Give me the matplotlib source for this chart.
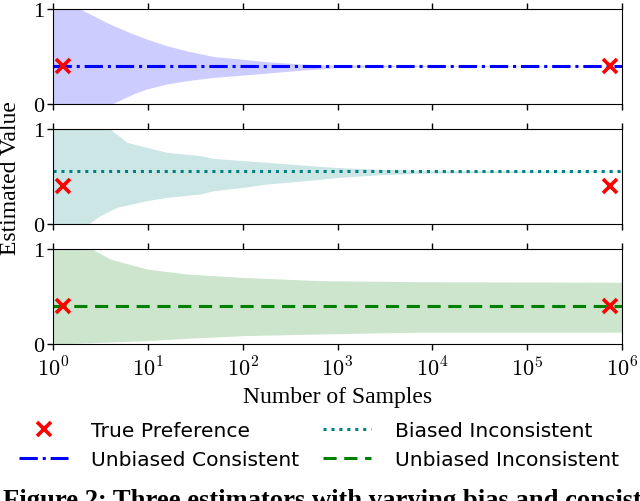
import numpy as np
import matplotlib
matplotlib.use("Agg")
import matplotlib.pyplot as plt
from matplotlib.lines import Line2D

plt.rcParams['mathtext.fontset'] = 'cm'
plt.rcParams['font.family'] = ['Liberation Serif', 'DejaVu Serif']

true_pref = 0.4
marker_x = [1.27, 7.5e5]

# Unbiased Consistent (band edges)
uc_mean = 0.403
uc_up_n = [1, 1.93, 3.1, 4.0, 7.0, 9.7, 15.8, 25.7, 49, 102, 179, 402, 654, 1000, 1e4, 1e5, 1e6]
uc_up_v = [1.0, 1.0, 0.895, 0.84, 0.737, 0.684, 0.614, 0.56, 0.50, 0.47, 0.445, 0.422, 0.413, 0.41, 0.407, 0.405, 0.405]
uc_lo_n = [1, 4.15, 7.0, 9.7, 15.8, 25.7, 49, 102, 179, 402, 654, 1000, 1e4, 1e5, 1e6]
uc_lo_v = [0.0, 0.0, 0.105, 0.158, 0.21, 0.245, 0.28, 0.305, 0.325, 0.355, 0.37, 0.385, 0.397, 0.4, 0.401]

# Biased Inconsistent
bi_mean = 0.555
bi_up_n = [1, 4.0, 6.0, 9.7, 15.8, 36, 49, 102, 179, 654, 1000, 3000, 1e4, 1e5, 1e6]
bi_up_v = [1.0, 1.0, 0.86, 0.807, 0.755, 0.72, 0.69, 0.667, 0.65, 0.607, 0.595, 0.575, 0.565, 0.56, 0.558]
bi_lo_n = [1, 2.36, 3.13, 4.7, 9.7, 15.8, 36, 49, 102, 179, 654, 1000, 3000, 1e4, 1e5, 1e6]
bi_lo_v = [0.0, 0.0, 0.088, 0.175, 0.245, 0.28, 0.316, 0.35, 0.386, 0.42, 0.47, 0.49, 0.52, 0.535, 0.545, 0.55]

# Unbiased Inconsistent
ui_mean = 0.4
ui_up_n = [1, 2.56, 4.0, 9.7, 25.7, 102, 654, 7400, 1e6]
ui_up_v = [1.0, 1.0, 0.895, 0.79, 0.737, 0.70, 0.667, 0.656, 0.65]
ui_lo_n = [1, 2.0, 9.7, 25.7, 102, 654, 7400, 1e6]
ui_lo_v = [0.0, 0.01, 0.035, 0.06, 0.088, 0.105, 0.125, 0.125]

panels = [
    (uc_mean, uc_up_n, uc_up_v, uc_lo_n, uc_lo_v, 'blue', (0, (6, 1.6, 1, 1.6))),
    (bi_mean, bi_up_n, bi_up_v, bi_lo_n, bi_lo_v, 'teal', (0, (1, 1.6))),
    (ui_mean, ui_up_n, ui_up_v, ui_lo_n, ui_lo_v, 'green', (0, (4.3, 2.5))),
]

fig = plt.figure(figsize=(6.4, 5.02), dpi=100)
L, R = 53/640, 622/640
tops = [10, 130, 250]
h = 95
axes = []
for i, (mean, un, uv, ln, lv, col, ls) in enumerate(panels):
    ax = fig.add_axes([L, 1 - (tops[i] + h)/502, R - L, h/502])
    # evaluate both edges on a common grid (log-linear between read points)
    grid = np.unique(np.concatenate([un, ln]))
    up = np.interp(np.log10(grid), np.log10(un), uv)
    lo = np.interp(np.log10(grid), np.log10(ln), lv)
    ax.fill_between(grid, lo, up, color=col, alpha=0.2, lw=0)
    ax.plot([1, 1e6], [mean, mean], color=col, ls=ls, lw=2.2)
    ax.plot(marker_x, [true_pref]*2, 'x', color='red', ms=10, mew=2.6, zorder=5)
    ax.set_xscale('log')
    ax.set_xlim(1, 1e6)
    ax.set_ylim(0, 1)
    ax.set_yticks([0, 1])
    ax.set_xticks([10**k for k in range(7)])
    ax.minorticks_off()
    ax.tick_params(axis='both', direction='out', length=4, width=1,
                   top=True, labelsize=16, pad=2.5)
    ax.tick_params(axis='x', pad=5)
    if i < 2:
        ax.tick_params(labelbottom=False)
    else:
        ax.set_xticklabels([r'$10^{%d}$' % k for k in range(7)])
    axes.append(ax)

axes[2].set_xlabel('Number of Samples', fontsize=17, labelpad=4)
fig.text(11/640, 1 - 178/502, 'Estimated Value', rotation=90, fontsize=17,
         ha='center', va='center')

handles = [
    Line2D([], [], ls='none', marker='x', color='red', ms=10, mew=2.6),
    Line2D([], [], color='blue', ls=(0, (6, 1.6, 1, 1.6)), lw=2.2),
    Line2D([], [], color='teal', ls=(0, (1, 1.6)), lw=2.2),
    Line2D([], [], color='green', ls=(0, (4.3, 2.5)), lw=2.2),
]
labels = ['True Preference', 'Unbiased Consistent', 'Biased Inconsistent',
          'Unbiased Inconsistent']
fig.legend(handles, labels, ncol=2, loc='center', bbox_to_anchor=(319/640, 1 - 446/502),
           frameon=False, prop={'family': 'DejaVu Sans', 'size': 14.6},
           handlelength=2.4, columnspacing=1.15, handletextpad=1.15, labelspacing=0.5)

fig.text(3/640, 1 - 489/502, 'Figure 2: Three estimators with varying bias and consistency',
         fontsize=19.2, fontweight='bold', ha='left', va='top')

fig.savefig('out.png', dpi=100)
